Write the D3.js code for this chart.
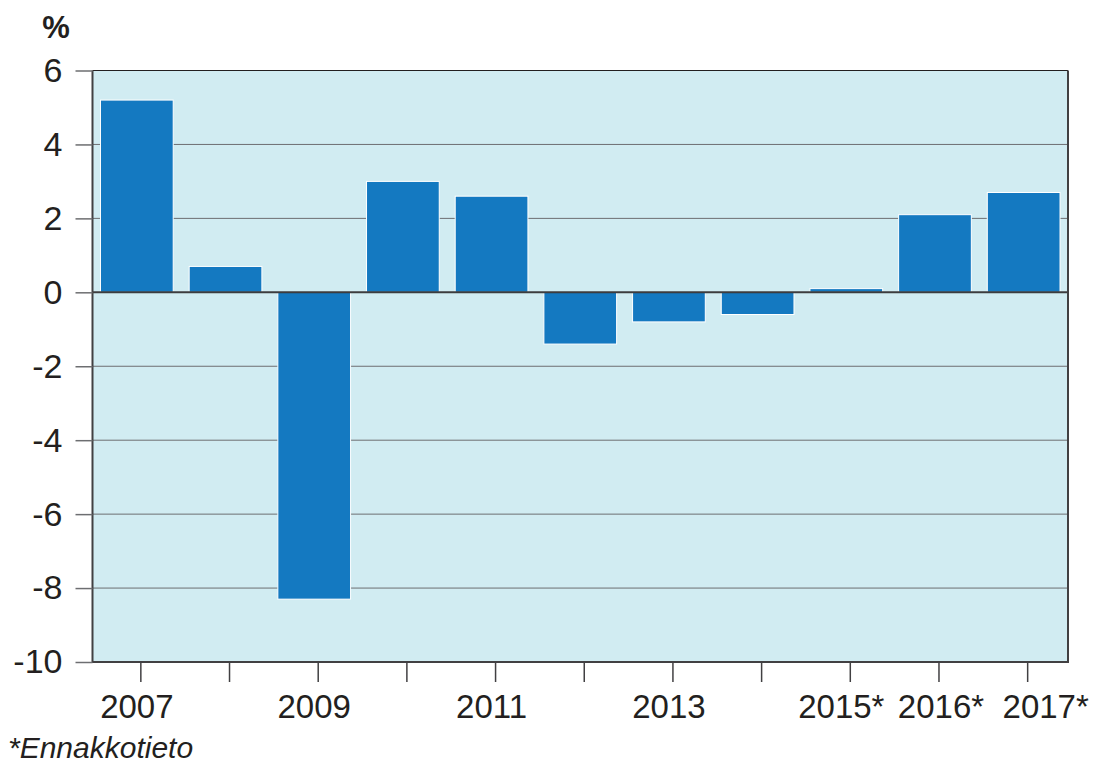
<!DOCTYPE html>
<html>
<head>
<meta charset="utf-8">
<script src="https://cdn.jsdelivr.net/npm/d3@7"></script>
<style>
  body { margin: 0; background: #fff; }
  text { font-family: "Liberation Sans", Arial, sans-serif; fill: #231f20; }
</style>
</head>
<body>
<div id="chart"></div>
<script>
const years = ["2007", "2008", "2009", "2010", "2011", "2012", "2013", "2014", "2015*", "2016*", "2017*"];
const values = [5.2, 0.7, -8.3, 3.0, 2.6, -1.4, -0.8, -0.6, 0.1, 2.1, 2.7];
const yTicks = [6, 4, 2, 0, -2, -4, -6, -8, -10];
const xLabels = ["2007", "2009", "2011", "2013", "2015*", "2016*", "2017*"];

const width = 1100;
const height = 767;
const plot = { left: 92.5, right: 1068, top: 70.5, bottom: 662 };

const svg = d3.select("#chart").append("svg")
    .attr("width", width)
    .attr("height", height);

const xScale = d3.scaleBand()
    .domain(years)
    .range([plot.left, plot.right])
    .paddingInner(0.18)
    .paddingOuter(0.09);

const yScale = d3.scaleLinear()
    .domain([-10, 6])
    .range([plot.bottom, plot.top]);

// background
svg.append("rect")
    .attr("x", plot.left)
    .attr("y", plot.top)
    .attr("width", plot.right - plot.left)
    .attr("height", plot.bottom - plot.top)
    .attr("fill", "#d1ecf2");

// gridlines
svg.append("g")
    .selectAll("line")
    .data(yTicks.filter(d => d !== 0 && d !== -10))
    .enter().append("line")
    .attr("x1", plot.left)
    .attr("x2", plot.right)
    .attr("y1", d => yScale(d))
    .attr("y2", d => yScale(d))
    .attr("stroke", d => d === 6 ? "#231f20" : "#6d6e71")
    .attr("stroke-width", 1);

// bars
svg.append("g")
    .selectAll("rect")
    .data(values)
    .enter().append("rect")
    .attr("x", (d, i) => xScale(years[i]))
    .attr("y", d => yScale(Math.max(0, d)))
    .attr("width", xScale.bandwidth())
    .attr("height", d => Math.abs(yScale(d) - yScale(0)))
    .attr("fill", "#1479c1")
    .attr("stroke", "#ffffff")
    .attr("stroke-width", 1);

// zero line
svg.append("line")
    .attr("x1", plot.left)
    .attr("x2", plot.right)
    .attr("y1", yScale(0))
    .attr("y2", yScale(0))
    .attr("stroke", "#3c3c3e")
    .attr("stroke-width", 2);

// frame: left, bottom, right
svg.append("path")
    .attr("d", `M${plot.left},${plot.top}V${plot.bottom}H${plot.right}V${plot.top}`)
    .attr("fill", "none")
    .attr("stroke", "#414042")
    .attr("stroke-width", 2);

// y axis
const yAxis = svg.append("g")
    .attr("transform", `translate(${plot.left},0)`)
    .call(d3.axisLeft(yScale).tickValues(yTicks).tickSize(17).tickPadding(13).tickFormat(d => d));
yAxis.select(".domain").remove();
yAxis.selectAll("line").attr("stroke", "#6d6e71").attr("stroke-width", 1.5);
yAxis.selectAll("text")
    .style("font-size", "34px")
    .style("font-family", "'Liberation Sans', Arial, sans-serif")
    .attr("fill", "#231f20");

// x axis, ticks slightly offset from bar centres as in the source
const xAxis = svg.append("g")
    .attr("transform", `translate(4,${plot.bottom})`)
    .call(d3.axisBottom(xScale).tickSize(20).tickPadding(13).tickFormat(d => xLabels.includes(d) ? d : ""));
xAxis.select(".domain").remove();
xAxis.selectAll("line").attr("stroke", "#414042").attr("stroke-width", 1.5);
// labels sit at bar centres; starred ones are nudged apart to avoid crowding
const labelNudge = { "2015*": -9, "2016*": 2, "2017*": 18 };
xAxis.selectAll("text")
    .style("font-size", "33px")
    .style("font-family", "'Liberation Sans', Arial, sans-serif")
    .attr("fill", "#231f20")
    .attr("x", d => labelNudge[d] !== undefined ? labelNudge[d] : -4);

// unit label
svg.append("text")
    .attr("x", 56)
    .attr("y", 38)
    .attr("text-anchor", "middle")
    .style("font-size", "31px")
    .style("font-weight", "bold")
    .text("%");

// footnote
svg.append("text")
    .attr("x", 8)
    .attr("y", 758)
    .style("font-size", "30px")
    .style("font-style", "italic")
    .text("*Ennakkotieto");
</script>
</body>
</html>
